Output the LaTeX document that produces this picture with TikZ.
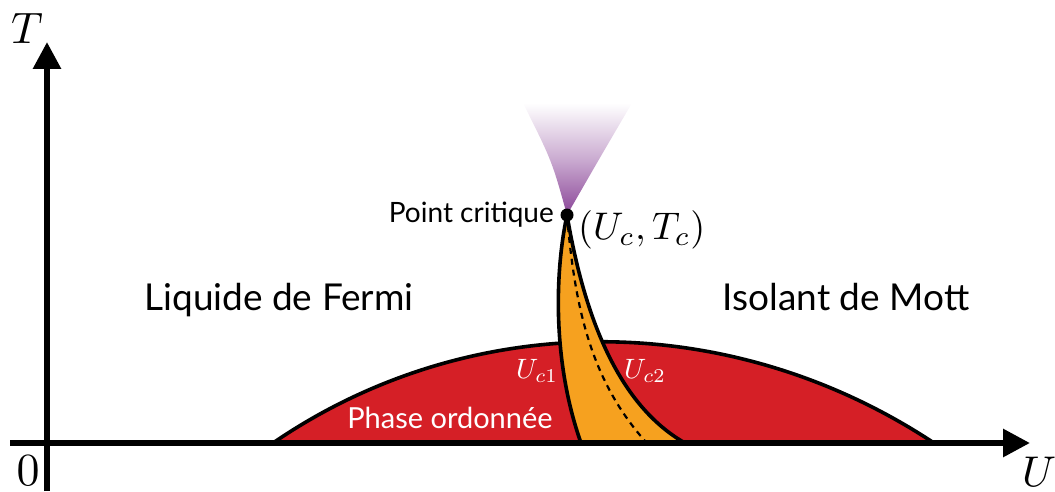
\documentclass[tikz,border=0pt]{standalone}
\usepackage{graphicx}
\usepackage[no-math]{fontspec}
\setmainfont{Lato}
\usetikzlibrary{arrows.meta}
\definecolor{domered}{HTML}{D51F26}
\definecolor{coexorange}{HTML}{F6A11F}
\definecolor{critpurple}{HTML}{8A4598}
\tikzset{
  axisline/.style={line width=6pt,-{Triangle[length=27pt,width=27pt]}},
  bound/.style={line width=3.6pt,line join=round},
  phaselabel/.style={font=\fontsize{37}{40}\selectfont,inner sep=0pt,anchor=base},
  whitelabel/.style={text=white,inner sep=0pt,anchor=base},
}
\begin{document}
\begin{tikzpicture}[x=1pt,y=1pt]
\useasboundingbox (0,0) rectangle (1055,491);
% critical cone
\shade[top color=white,bottom color=critpurple,middle color=critpurple!45]
  (567,276) .. controls (552,330) .. (523,388) -- (632,388) .. controls (598,330) .. (567,276) -- cycle;
% ordered dome
\filldraw[fill=domered,draw=black,bound] (273,48) .. controls (470,183) and (730,183) .. (934,48);
% coexistence region
\coordinate (cp) at (567,276);
\coordinate (uc1) at (581,48);
\coordinate (uc2) at (685,48);
\coordinate (dend) at (645,50);
\fill[coexorange] (cp) .. controls (555,220) and (552,130) .. (uc1) -- (uc2)
  .. controls (620,85) and (585,170) .. (cp) -- cycle;
\draw[bound] (cp) .. controls (555,220) and (552,130) .. (uc1);
\draw[bound] (cp) .. controls (585,170) and (620,85) .. (uc2);
\draw[line width=2.2pt,dash pattern=on 6pt off 5pt] (cp) .. controls (575,180) and (592,110) .. (dend);
% axes
\coordinate (hx0) at (10,48);
\coordinate (hx1) at (1030,48);
\coordinate (vy0) at (47,0);
\coordinate (vy1) at (47,449);
\draw[axisline] (hx0) -- (hx1);
\draw[axisline] (vy0) -- (vy1);
% critical point
\fill (cp) circle[radius=6.5];
% labels
\node[anchor=base east,inner sep=0pt,font=\fontsize{28}{30}\selectfont] (pc) at (554,269) {Point critique};
\node[anchor=west,inner sep=0pt] (ucTc) at (578,261) {\scalebox{3.85}{$(U_c,T_c)$}};
\node[phaselabel] (fermi) at (279,181) {Liquide de Fermi};
\node[phaselabel] (mott) at (846,181) {Isolant de Mott};
\node[whitelabel,font=\fontsize{29}{32}\selectfont] (ordre) at (450,63) {Phase ordonnée};
\node[whitelabel] (lc1) at (537,113) {\scalebox{2.8}{$U_{c1}$}};
\node[whitelabel] (lc2) at (645,113) {\scalebox{2.8}{$U_{c2}$}};
\node[inner sep=0pt] (Tlab) at (27,463) {\scalebox{4.4}{$T$}};
\node[inner sep=0pt] (zero) at (28,20) {\scalebox{4.6}{$0$}};
\node[anchor=north west,inner sep=0pt] (Ulab) at (1022,34) {\scalebox{4.3}{$U$}};
\end{tikzpicture}
\end{document}
